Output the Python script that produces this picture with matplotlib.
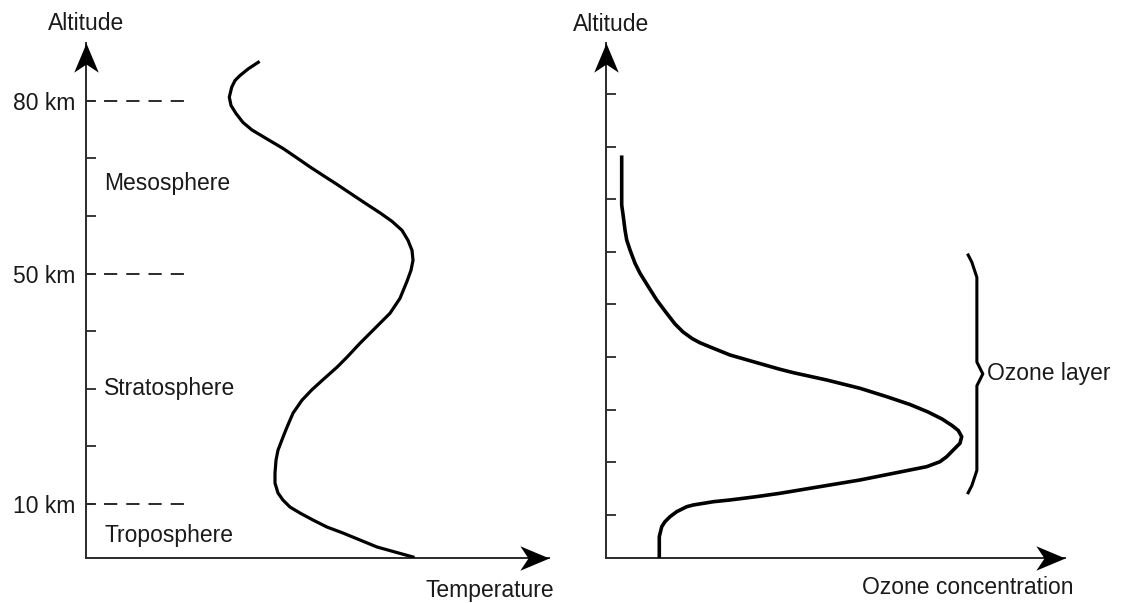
import matplotlib
matplotlib.use('Agg')
import matplotlib.pyplot as plt
from matplotlib.path import Path

plt.rcParams['font.family'] = ['Liberation Sans', 'DejaVu Sans']
plt.rcParams['lines.scale_dashes'] = False

# --- Temperature profile (left panel), altitude in tick units (ticks at 1..8)
temp_x = [37.21, 35.05, 33.26, 32.18, 31.47, 30.95, 31.32, 32.40, 33.91, 35.85,
          39.09, 42.55, 45.57, 48.38, 51.19, 54.21, 57.45, 60.69, 63.50, 66.09,
          68.25, 69.55, 70.41, 70.63, 70.19, 69.33, 67.82, 65.66, 63.50, 61.34,
          59.18, 56.37, 54.21, 51.30, 48.81, 46.65, 44.71, 43.41, 42.55, 41.47,
          41.04, 40.82, 40.82, 41.47, 42.55, 44.06, 46.22, 49.03, 52.05, 55.51,
          59.18, 62.85, 66.74, 70.63]
temp_alt = [8.666, 8.552, 8.436, 8.349, 8.233, 8.060, 7.916, 7.777, 7.621, 7.491,
            7.335, 7.171, 7.006, 6.850, 6.703, 6.547, 6.373, 6.200, 6.053, 5.906,
            5.750, 5.576, 5.403, 5.230, 5.056, 4.866, 4.571, 4.311, 4.138, 3.964,
            3.791, 3.549, 3.375, 3.167, 2.985, 2.803, 2.578, 2.335, 2.162, 1.937,
            1.763, 1.538, 1.365, 1.192, 1.070, 0.949, 0.845, 0.724, 0.602, 0.498,
            0.377, 0.256, 0.169, 0.082]

left_ticks = [1, 2, 3, 4, 5, 6, 7, 8]
left_ticklabels = ['10 km', '', '', '', '50 km', '', '', '80 km']
boundaries = [1, 5, 8]

layers = ['Mesosphere', 'Stratosphere', 'Troposphere']
layer_alt = [6.56, 3.01, 0.46]

# --- Ozone profile (right panel), altitude in tick units (ticks at 1..9)
ozone_x = [3.42, 3.42, 3.77, 4.14, 4.51, 5.23, 6.32, 7.41, 9.22, 11.05, 13.22,
           15.03, 16.78, 18.74, 20.48, 23.38, 27.02, 32.09, 37.91, 40.81, 48.08,
           55.34, 61.15, 66.23, 70.15, 73.20, 75.38, 76.75, 77.49, 77.12, 75.66,
           74.23, 72.77, 69.87, 66.23, 55.34, 44.44, 37.91, 32.68, 27.02, 23.38,
           19.02, 17.58, 15.40, 13.94, 12.85, 12.14, 11.61, 11.61]
ozone_alt = [7.798, 6.891, 6.669, 6.416, 6.226, 6.036, 5.783, 5.593, 5.338, 5.085,
             4.832, 4.629, 4.477, 4.353, 4.271, 4.167, 4.039, 3.912, 3.767, 3.703,
             3.564, 3.406, 3.247, 3.098, 2.956, 2.823, 2.699, 2.604, 2.486, 2.361,
             2.233, 2.106, 2.011, 1.916, 1.853, 1.663, 1.505, 1.410, 1.345, 1.283,
             1.250, 1.188, 1.155, 1.060, 0.965, 0.870, 0.775, 0.585, 0.180]
right_ticks = [1, 2, 3, 4, 5, 6, 7, 8, 9]
ozone_layer_lo, ozone_layer_hi = 1.42, 5.94

fig = plt.figure(figsize=(11.21, 6.03), dpi=100)
axL = fig.add_axes([86 / 1121, 45 / 603, 463 / 1121, 515 / 603])
axR = fig.add_axes([606 / 1121, 45 / 603, 459 / 1121, 515 / 603])

axis_col = '#2a2a2a'
txt_col = '#1a1a1a'
fs = 16.5

# arrow heads with a notched back
code = [Path.MOVETO, Path.LINETO, Path.LINETO, Path.LINETO, Path.CLOSEPOLY]
head_right = Path([(0, 0), (-1, 0.42), (-0.72, 0), (-1, -0.42), (0, 0)], code)
head_up = Path([(0, 0), (0.42, -1), (0, -0.72), (-0.42, -1), (0, 0)], code)

for ax in (axL, axR):
    for s in ax.spines.values():
        s.set_visible(False)
    ax.set_xticks([])
    ax.tick_params(axis='y', direction='in', length=7.5, width=1.3,
                   color=axis_col, labelsize=fs, labelcolor=txt_col, pad=8)
    ax.plot([0, 1], [0, 0], transform=ax.transAxes, clip_on=False,
            color=axis_col, lw=1.4)
    ax.plot([0, 0], [0, 1], transform=ax.transAxes, clip_on=False,
            color=axis_col, lw=1.4)
    ax.plot([1], [0], transform=ax.transAxes, clip_on=False, marker=head_right,
            ms=42, color='black', mew=0)
    ax.plot([0], [1], transform=ax.transAxes, clip_on=False, marker=head_up,
            ms=42, color='black', mew=0)

axL.text(0, 1.038, 'Altitude', transform=axL.transAxes, ha='center',
         va='center', fontsize=fs, color=txt_col)
axR.text(0.01, 1.035, 'Altitude', transform=axR.transAxes, ha='center',
         va='center', fontsize=fs, color=txt_col)

# left panel
axL.set_xlim(0, 100)
axL.set_ylim(0.065, 9.0)
axL.set_yticks(left_ticks)
axL.set_yticklabels(left_ticklabels)
for b in boundaries:
    axL.plot([0, 21.8], [b, b], color=axis_col, lw=1.4,
             linestyle=(3, (9.5, 6.5)))
axL.plot(temp_x, temp_alt, color='black', lw=2.3, solid_joinstyle='round')
for name, alt in zip(layers, layer_alt):
    axL.text(3.9, alt, name, ha='left', va='center', fontsize=fs, color=txt_col)
axL.text(0.873, -0.064, 'Temperature', transform=axL.transAxes, ha='center',
         va='center', fontsize=fs, color=txt_col)

# right panel
axR.set_xlim(0, 100)
axR.set_ylim(0.18, 9.97)
axR.set_yticks(right_ticks)
axR.set_yticklabels([])
axR.plot(ozone_x, ozone_alt, color='black', lw=2.6, solid_joinstyle='round')

# brace marking the ozone layer
mid = (ozone_layer_lo + ozone_layer_hi) / 2
span = ozone_layer_hi - ozone_layer_lo
bx = 80.8
brace_x = [bx - 1.9, bx - 1.1, bx, bx, bx + 1.3, bx, bx, bx - 1.1, bx - 1.9]
brace_y = [ozone_layer_hi, ozone_layer_hi - 0.03 * span,
           ozone_layer_hi - 0.094 * span, mid + 0.05 * span, mid,
           mid - 0.05 * span, ozone_layer_lo + 0.094 * span,
           ozone_layer_lo + 0.03 * span, ozone_layer_lo]
axR.plot(brace_x, brace_y, color='black', lw=2.2, solid_joinstyle='round')
axR.text(bx + 2.2, mid, 'Ozone layer', ha='left', va='center', fontsize=fs,
         color=txt_col)
axR.text(0.789, -0.058, 'Ozone concentration', transform=axR.transAxes,
         ha='center', va='center', fontsize=fs, color=txt_col)

fig.savefig('out.png', dpi=100, facecolor='white')
